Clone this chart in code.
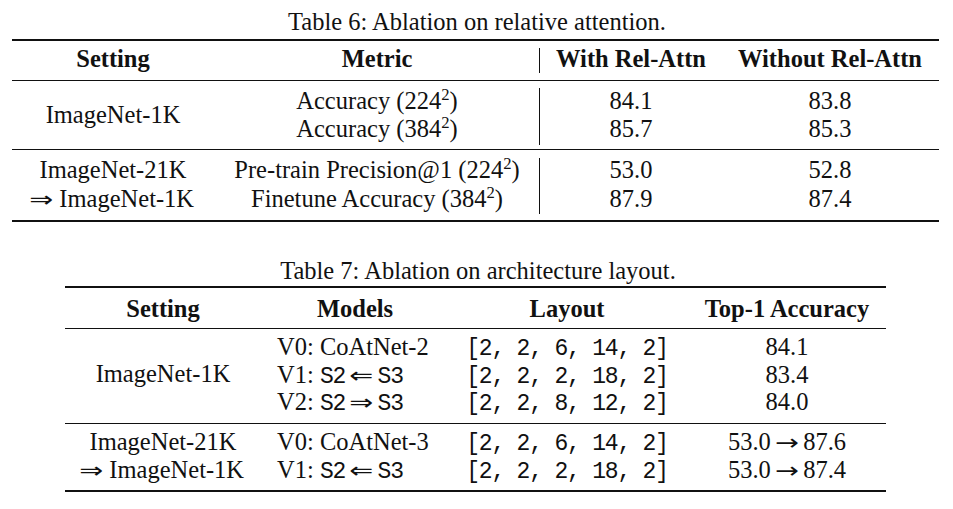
<!DOCTYPE html>
<html>
<head>
<meta charset="utf-8">
<script src="https://cdn.jsdelivr.net/npm/chart.js@4.4.0/dist/chart.umd.min.js"></script>
<style>
  html, body { margin: 0; padding: 0; background: #fff; }
  #page { position: relative; width: 953px; height: 509px; overflow: hidden;
          font-family: "Liberation Serif", "Times New Roman", serif; font-size: 24.5px; color: #111; }
  .t { position: absolute; line-height: 28px; white-space: pre; }
  .c { text-align: center; width: 600px; }
  .b { font-weight: bold; }
  .tt { font-family: "Liberation Mono", "DejaVu Sans Mono", monospace; font-size: 23px; letter-spacing: -1.2px; }
  .ar { font-family: "DejaVu Sans", "DejaVu Serif", serif; font-size: 22px; display: inline-block;
        transform: scaleX(1.3); margin: 0 7px; }
  .ar.lead { margin-left: 0; margin-right: 9px; }
  .sup { font-size: 0.68em; position: relative; top: -0.5em; }
  .rule { position: absolute; background: #111; }
</style>
</head>
<body>
<div id="page"></div>
<script>
// Table 6: ablation on relative attention
const t6Caption = 'Table 6: Ablation on relative attention.';
const t6Headers = ['Setting', 'Metric', 'With Rel-Attn', 'Without Rel-Attn'];
const t6Settings = [['ImageNet-1K'], ['ImageNet-21K', '⇒ ImageNet-1K']];
const t6Metrics = [['Accuracy', 224], ['Accuracy', 384], ['Pre-train Precision@1', 224], ['Finetune Accuracy', 384]];
const withRelAttn = [84.1, 85.7, 53.0, 87.9];
const withoutRelAttn = [83.8, 85.3, 52.8, 87.4];

// Table 7: ablation on architecture layout
const t7Caption = 'Table 7: Ablation on architecture layout.';
const t7Headers = ['Setting', 'Models', 'Layout', 'Top-1 Accuracy'];
const t7Settings = [['ImageNet-1K'], ['ImageNet-21K', '⇒ ImageNet-1K']];
const t7Models = [['V0', 'CoAtNet-2'], ['V1', 'S2', '⇐', 'S3'], ['V2', 'S2', '⇒', 'S3'], ['V0', 'CoAtNet-3'], ['V1', 'S2', '⇐', 'S3']];
const t7Layouts = [[2, 2, 6, 14, 2], [2, 2, 2, 18, 2], [2, 2, 8, 12, 2], [2, 2, 6, 14, 2], [2, 2, 2, 18, 2]];
const pretrainPrecision = [null, null, null, 53.0, 53.0];
const top1Accuracy = [84.1, 83.4, 84.0, 87.6, 87.4];

// layout (pixels)
const page = document.getElementById('page');
const BASE = 22.3;

function put(html, x, baseline, opts) {
    opts = opts || {};
    const d = document.createElement('div');
    d.className = 't' + (opts.left ? '' : ' c') + (opts.bold ? ' b' : '');
    d.style.left = (opts.left ? x : x - 300) + 'px';
    d.style.top = (baseline - BASE) + 'px';
    d.innerHTML = html;
    page.appendChild(d);
}

function rule(x1, x2, y, h) {
    const d = document.createElement('div');
    d.className = 'rule';
    d.style.left = x1 + 'px';
    d.style.width = (x2 - x1) + 'px';
    d.style.top = (y - h / 2) + 'px';
    d.style.height = h + 'px';
    page.appendChild(d);
}

function vrule(x, y1, y2) {
    const d = document.createElement('div');
    d.className = 'rule';
    d.style.left = (x - 0.55) + 'px';
    d.style.width = '1.1px';
    d.style.top = y1 + 'px';
    d.style.height = (y2 - y1) + 'px';
    page.appendChild(d);
}

function metricHtml(m) {
    return m[0] + ' (' + m[1] + '<span class="sup">2</span>)';
}

function settingHtml(s) {
    return s.replace(/[⇒⇐→]\s*/g, a => '<span class="ar lead">' + a.trim() + '</span>');
}

function modelHtml(m) {
    if (m.length === 2) return m[0] + ': ' + m[1];
    return m[0] + ': <span class="tt">' + m[1] + '</span><span class="ar">' + m[2] + '</span><span class="tt">' + m[3] + '</span>';
}

function drawTable6() {
    const cols = [113, 377, 631, 830];
    const rowBase = [109, 137, 178, 207];
    const groupRows = [[0, 1], [2, 3]];
    put(t6Caption, 477, 30);
    rule(12, 939, 39.5, 2);
    t6Headers.forEach((h, i) => put(h, cols[i], 67, { bold: true }));
    rule(12, 939, 80, 1);
    rule(12, 939, 149.5, 1);
    rule(12, 939, 220.5, 2);
    // vertical separator after the Metric column, broken at the rules
    vrule(539.3, 48, 73);
    vrule(539.3, 88, 145);
    vrule(539.3, 158, 214);
    t6Settings.forEach((lines, g) => {
        const rs = groupRows[g];
        const mid = (rowBase[rs[0]] + rowBase[rs[rs.length - 1]]) / 2;
        const start = mid - (lines.length - 1) * 14.5;
        lines.forEach((l, k) => put(settingHtml(l), cols[0], start + k * 29));
    });
    t6Metrics.forEach((m, r) => put(metricHtml(m), cols[1], rowBase[r]));
    withRelAttn.forEach((v, r) => put(v.toFixed(1), cols[2], rowBase[r]));
    withoutRelAttn.forEach((v, r) => put(v.toFixed(1), cols[3], rowBase[r]));
}

function drawTable7() {
    const cols = [163, 355, 567, 787];
    const modelLeft = 277;
    const rowBase = [355, 383, 410, 450, 478];
    const groupRows = [[0, 1, 2], [3, 4]];
    put(t7Caption, 478, 279);
    rule(65, 886, 287.3, 2);
    t7Headers.forEach((h, i) => put(h, cols[i], 317, { bold: true }));
    rule(65, 886, 328.5, 1);
    rule(65, 886, 423.5, 1);
    rule(65, 886, 490.7, 2);
    t7Settings.forEach((lines, g) => {
        const rs = groupRows[g];
        const mid = (rowBase[rs[0]] + rowBase[rs[rs.length - 1]]) / 2;
        const start = mid - (lines.length - 1) * 14;
        lines.forEach((l, k) => put(settingHtml(l), cols[0], start + k * 28));
    });
    t7Models.forEach((m, r) => put(modelHtml(m), modelLeft, rowBase[r], { left: true }));
    t7Layouts.forEach((l, r) => put('<span class="tt">[' + l.join(', ') + ']</span>', cols[2], rowBase[r]));
    top1Accuracy.forEach((v, r) => {
        const p = pretrainPrecision[r];
        const txt = (p === null ? '' : p.toFixed(1) + '<span class="ar">→</span>') + v.toFixed(1);
        put(txt, cols[3], rowBase[r]);
    });
}

drawTable6();
drawTable7();
</script>
</body>
</html>
